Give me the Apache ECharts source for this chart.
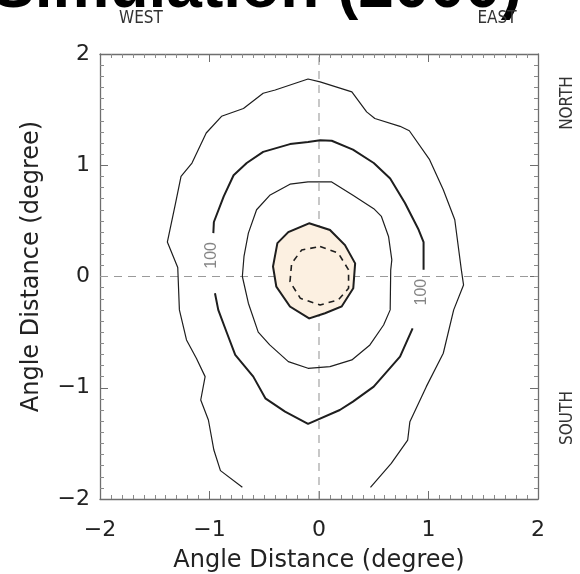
<!DOCTYPE html>
<html>
<head>
<meta charset="utf-8">
<script src="https://cdn.jsdelivr.net/npm/echarts@6/dist/echarts.min.js"></script>
<style>
  html, body { margin: 0; padding: 0; background: #fff; }
  #chart { width: 580px; height: 574px; }
</style>
</head>
<body>
<div id="chart"></div>
<script>
// Axis extent and tick labels (degrees)
const axisMin = -2;
const axisMax = 2;
const tickLabels = ['\u22122', '\u22121', '0', '1', '2'];

// Outermost contour, open at the bottom of the simulated field
const outerContour = [
  [-0.70, -1.895], [-0.90, -1.745], [-0.96, -1.56], [-1.01, -1.29], [-1.08, -1.11],
  [-1.04, -0.90], [-1.12, -0.735], [-1.21, -0.57], [-1.275, -0.30], [-1.29, 0.08],
  [-1.385, 0.31], [-1.31, 0.66], [-1.26, 0.90], [-1.16, 1.02], [-1.03, 1.29],
  [-0.89, 1.44], [-0.69, 1.51], [-0.51, 1.647], [-0.40, 1.676], [-0.10, 1.775],
  [0.01, 1.75], [0.30, 1.66], [0.435, 1.48], [0.51, 1.42], [0.74, 1.35],
  [0.825, 1.31], [1.01, 1.05], [1.135, 0.78], [1.24, 0.51], [1.30, 0.06],
  [1.32, -0.076], [1.23, -0.30], [1.135, -0.69], [0.98, -0.99], [0.83, -1.305],
  [0.81, -1.47], [0.66, -1.68], [0.47, -1.895]
];

// Level-100 contour, split where its labels sit
const contour100Upper = [
  [-0.965, 0.39], [-0.96, 0.49], [-0.87, 0.72], [-0.78, 0.91], [-0.66, 1.02],
  [-0.51, 1.12], [-0.265, 1.19], [-0.10, 1.21], [0.01, 1.225], [0.116, 1.22],
  [0.31, 1.14], [0.50, 1.02], [0.65, 0.88], [0.785, 0.66], [0.91, 0.42],
  [0.955, 0.31], [0.955, 0.06]
];
const contour100Lower = [
  [0.855, -0.466], [0.74, -0.72], [0.66, -0.81], [0.50, -0.99], [0.31, -1.125],
  [0.19, -1.20], [-0.10, -1.325], [-0.31, -1.215], [-0.49, -1.095], [-0.60, -0.90],
  [-0.765, -0.705], [-0.84, -0.51], [-0.92, -0.30], [-0.95, -0.15]
];

// Next contour inward (closed)
const middleContour = [
  [-0.10, 0.85], [-0.265, 0.83], [-0.45, 0.73], [-0.57, 0.60], [-0.645, 0.39],
  [-0.685, 0.18], [-0.70, 0.0], [-0.645, -0.24], [-0.555, -0.50], [-0.45, -0.615],
  [-0.28, -0.765], [-0.10, -0.825], [0.10, -0.81], [0.30, -0.75], [0.465, -0.615],
  [0.59, -0.436], [0.65, -0.30], [0.655, 0.06], [0.665, 0.15], [0.635, 0.36],
  [0.57, 0.54], [0.50, 0.61], [0.31, 0.73], [0.116, 0.85], [-0.10, 0.85]
];

// Shaded core region
const coreContour = [
  [-0.09, 0.478], [0.10, 0.418], [0.237, 0.283], [0.33, 0.118], [0.313, -0.106],
  [0.207, -0.27], [0.055, -0.33], [-0.09, -0.376], [-0.265, -0.27], [-0.39, -0.09],
  [-0.42, 0.09], [-0.38, 0.30], [-0.28, 0.40]
];

// Innermost dashed contour
const innerDashedContour = [
  [0.01, 0.27], [0.176, 0.21], [0.27, 0.06], [0.27, -0.106], [0.176, -0.21],
  [0.01, -0.256], [-0.17, -0.196], [-0.265, -0.047], [-0.25, 0.118], [-0.158, 0.238],
  [0.01, 0.27]
];

// Contour level labels
const contourLabelText = '100';
const contourLabelPoints = [[-0.977, 0.19], [0.936, -0.14]];

// Cross-hair through the origin
const horizontalZero = [[axisMin, 0], [axisMax, 0]];
const verticalZero = [[0, axisMin], [0, axisMax]];

const axisGrey = '#6e6e6e';
const labelFont = 'DejaVu Sans';

function tickText(v) {
  const idx = Math.round(v - axisMin);
  return tickLabels[idx] !== undefined ? tickLabels[idx] : '';
}

function frameAxis(extra) {
  return Object.assign({
    type: 'value',
    min: axisMin,
    max: axisMax,
    interval: 1,
    axisLine: { show: true, onZero: false, lineStyle: { color: axisGrey, width: 1.3 } },
    axisTick: { show: true, inside: true, length: 8, lineStyle: { color: axisGrey, width: 1 } },
    minorTick: { show: true, splitNumber: 10, length: 4, lineStyle: { color: '#8a8a8a', width: 1 } },
    splitLine: { show: false },
    minorSplitLine: { show: false },
    axisLabel: { show: false }
  }, extra);
}

function contourLine(data, width, dash) {
  return {
    type: 'line',
    data: data,
    xAxisIndex: 0,
    yAxisIndex: 0,
    symbol: 'none',
    showSymbol: false,
    smooth: false,
    silent: true,
    animation: false,
    z: 4,
    lineStyle: { color: '#1e1e1e', width: width, type: dash || 'solid' }
  };
}

function guideLine(data) {
  return {
    type: 'line',
    data: data,
    xAxisIndex: 0,
    yAxisIndex: 0,
    symbol: 'none',
    silent: true,
    animation: false,
    z: 1,
    lineStyle: { color: '#9a9a9a', width: 1.1, type: [8, 6] }
  };
}

const chart = echarts.init(document.getElementById('chart'), null, { renderer: 'canvas' });

chart.setOption({
  animation: false,
  backgroundColor: '#ffffff',
  grid: {
    left: 100, top: 54, width: 438, height: 445,
    containLabel: false,
    outerBoundsMode: 'none'
  },
  xAxis: [
    frameAxis({
      position: 'bottom',
      axisLabel: {
        show: true, margin: 20, fontSize: 22, fontFamily: labelFont, color: '#222',
        formatter: tickText
      },
      name: 'Angle Distance (degree)',
      nameLocation: 'middle',
      nameGap: 50,
      nameTextStyle: { fontSize: 24, fontFamily: labelFont, color: '#222' }
    }),
    frameAxis({ position: 'top' })
  ],
  yAxis: [
    frameAxis({
      position: 'left',
      axisLabel: {
        show: true, margin: 10, fontSize: 22, fontFamily: labelFont, color: '#222',
        formatter: tickText
      },
      name: 'Angle Distance (degree)',
      nameLocation: 'middle',
      nameGap: 56,
      nameTextStyle: { fontSize: 24, fontFamily: labelFont, color: '#222', padding: [0, 0, 0, 20] }
    }),
    frameAxis({ position: 'right' })
  ],
  graphic: [
    {
      type: 'text', x: 522, y: -11, silent: true,
      style: {
        text: 'Simulation (2000)', fill: '#000',
        font: 'bold 64px "Liberation Sans", Arial, sans-serif',
        align: 'right', verticalAlign: 'middle'
      }
    },
    {
      type: 'text', x: 141, y: 19, silent: true,
      style: { text: 'WEST', fill: '#333', font: '17px "DejaVu Sans Condensed", "DejaVu Sans", sans-serif', align: 'center', verticalAlign: 'middle' }
    },
    {
      type: 'text', x: 497, y: 19, silent: true,
      style: { text: 'EAST', fill: '#333', font: '17px "DejaVu Sans Condensed", "DejaVu Sans", sans-serif', align: 'center', verticalAlign: 'middle' }
    },
    {
      type: 'text', x: 568, y: 103, rotation: Math.PI / 2, silent: true,
      style: { text: 'NORTH', fill: '#333', font: '17px "DejaVu Sans Condensed", "DejaVu Sans", sans-serif', align: 'center', verticalAlign: 'middle' }
    },
    {
      type: 'text', x: 568, y: 418, rotation: Math.PI / 2, silent: true,
      style: { text: 'SOUTH', fill: '#333', font: '17px "DejaVu Sans Condensed", "DejaVu Sans", sans-serif', align: 'center', verticalAlign: 'middle' }
    }
  ],
  series: [
    guideLine(horizontalZero),
    guideLine(verticalZero),
    {
      type: 'custom',
      xAxisIndex: 0,
      yAxisIndex: 0,
      silent: true,
      animation: false,
      z: 3,
      data: coreContour,
      encode: { x: 0, y: 1 },
      renderItem: function (params, api) {
        if (params.dataIndex !== 0) return null;
        const pts = coreContour.map(function (p) { return api.coord(p); });
        return {
          type: 'polygon',
          shape: { points: pts },
          style: { fill: '#fcf0e1', stroke: '#1e1e1e', lineWidth: 2 }
        };
      }
    },
    contourLine(outerContour, 1.2),
    contourLine(contour100Upper, 2),
    contourLine(contour100Lower, 2),
    contourLine(middleContour, 1.2),
    contourLine(innerDashedContour, 1.6, [6, 5]),
    {
      type: 'scatter',
      xAxisIndex: 0,
      yAxisIndex: 0,
      data: contourLabelPoints,
      symbolSize: 0,
      silent: true,
      animation: false,
      z: 5,
      label: {
        show: true,
        position: 'inside',
        formatter: contourLabelText,
        rotate: 90,
        fontSize: 16,
        fontFamily: 'Liberation Sans',
        color: '#666'
      }
    }
  ]
});
</script>
</body>
</html>
